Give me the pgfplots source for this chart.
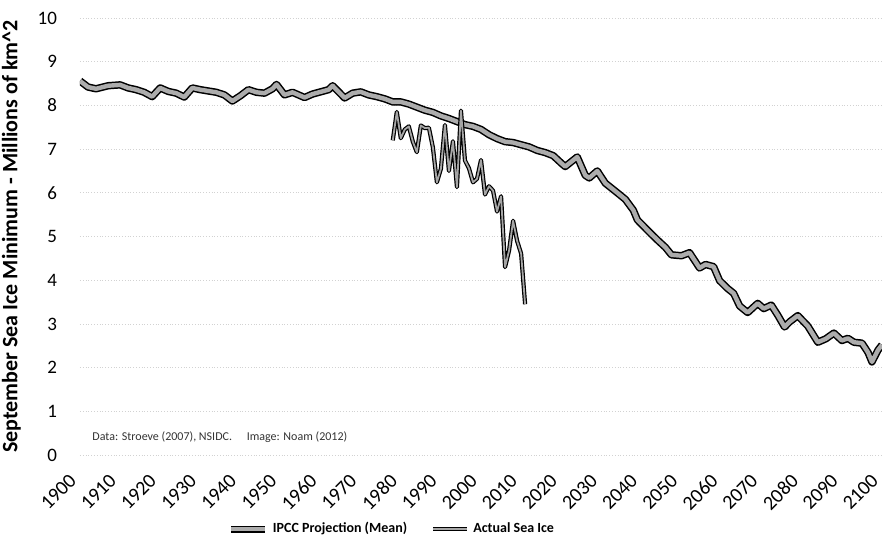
\documentclass[border=0pt]{standalone}
\usepackage{fontspec}
\setmainfont{Carlito}
\usepackage{pgfplots}
\pgfplotsset{compat=1.18}
\begin{document}
\begin{tikzpicture}
\begin{axis}[
  scale only axis,
  width=401pt, height=218.5pt,
  xmin=1900, xmax=2100, ymin=0, ymax=10,
  xtick={1900,1910,...,2100},
  ytick={0,1,...,10},
  /pgf/number format/assume math mode=true,
  xticklabel={\pgfmathprintnumber[1000 sep={}]{\tick}},
  axis line style={draw=none},
  major tick length=0pt,
  ymajorgrids,
  grid style={gray!35, densely dotted, line width=0.4pt},
  yticklabel style={font=\fontsize{9.5}{11}\selectfont, xshift=-8pt},
  xticklabel style={font=\fontsize{10}{12}\selectfont, xshift=-6pt, yshift=-4pt, rotate=45, anchor=north east},
  ylabel={September Sea Ice Minimum - Millions of km\textasciicircum 2},
  ylabel style={font=\fontsize{11}{13}\selectfont\bfseries, at={([xshift=-26pt]axis description cs:0,0.5)}, anchor=south},
  legend columns=2,
  legend style={at={(axis description cs:0.39,-0.17)}, anchor=center, draw=none, fill=none,
    font=\fontsize{7}{9}\selectfont\bfseries,
    /tikz/every even column/.append style={column sep=10pt}},
  legend image code/.code={\draw[#1] (0pt,0pt) -- (17pt,0pt);},
]
\addplot[black, line width=0.75pt, double=gray!65, double distance=2.2pt, line join=round] coordinates {
(1900,8.56) (1902,8.42) (1904,8.38) (1907,8.45) (1910,8.47) (1912,8.40) (1914,8.36) (1916,8.30)
(1918,8.20) (1920,8.40) (1922,8.32) (1924,8.28) (1926,8.19) (1928,8.40) (1930,8.36) (1932,8.33)
(1934,8.30) (1936,8.24) (1938,8.10) (1940,8.22) (1942,8.36) (1944,8.30) (1946,8.28) (1948,8.38)
(1949,8.48) (1951,8.24) (1953,8.30) (1956,8.18) (1958,8.26) (1960,8.31) (1962,8.36) (1963,8.45)
(1966,8.17) (1968,8.28) (1970,8.31) (1972,8.24) (1974,8.20) (1976,8.15) (1978,8.08) (1980,8.08)
(1982,8.03) (1984,7.96) (1986,7.89) (1988,7.84) (1990,7.76) (1992,7.70) (1994,7.63) (1996,7.56)
(1998,7.52) (2000,7.45) (2002,7.33) (2004,7.24) (2006,7.17) (2008,7.15) (2010,7.10) (2012,7.05)
(2014,6.97) (2016,6.92) (2018,6.85) (2020,6.68) (2021,6.60) (2024,6.82) (2026,6.40) (2027,6.34)
(2029,6.50) (2031,6.22) (2034,6.00) (2036,5.85) (2038,5.60) (2039,5.38) (2042,5.10) (2044,4.92)
(2046,4.75) (2047.5,4.58) (2050,4.56) (2052,4.63) (2054.5,4.28) (2056,4.36) (2058,4.31) (2059.5,3.99)
(2061.5,3.81) (2063,3.70) (2064.5,3.41) (2066.5,3.26) (2069,3.47) (2070.5,3.35) (2072.4,3.43) (2074,3.20)
(2075.7,2.93) (2077,3.05) (2079,3.19) (2081.5,2.95) (2084,2.58) (2086,2.66) (2088,2.79) (2090,2.62)
(2091.5,2.67) (2093,2.58) (2095,2.56) (2096.5,2.35) (2097.5,2.13) (2099,2.40) (2100,2.52)
};
\addlegendentry{IPCC Projection (Mean)}
\addplot[black, line width=0.6pt, double=gray!70, double distance=0.9pt, line join=round] coordinates {
(1978,7.20) (1979,7.85) (1980,7.25) (1981,7.45) (1982,7.52) (1983,7.17) (1984,6.93) (1985,7.54)
(1986,7.48) (1987,7.49) (1988,7.04) (1989,6.24) (1990,6.55) (1991,7.55) (1992,6.50) (1993,7.18)
(1994,6.13) (1995,7.88) (1996,6.74) (1997,6.56) (1998,6.24) (1999,6.32) (2000,6.75) (2001,5.96)
(2002,6.15) (2003,6.05) (2004,5.57) (2005,5.92) (2006,4.30) (2007,4.68) (2008,5.36) (2009,4.90)
(2010,4.61) (2011,3.45)
};
\addlegendentry{Actual Sea Ice}
\node[anchor=west, font=\fontsize{6}{8}\selectfont, text=black!80, inner sep=0pt] at (axis cs:1903,0.42)
  {Data: Stroeve (2007), NSIDC.\quad\ Image: Noam (2012)};
\end{axis}
\pgfresetboundingbox
\useasboundingbox (-40pt,-45.5pt) rectangle (401pt,227.5pt);
\end{tikzpicture}
\end{document}
